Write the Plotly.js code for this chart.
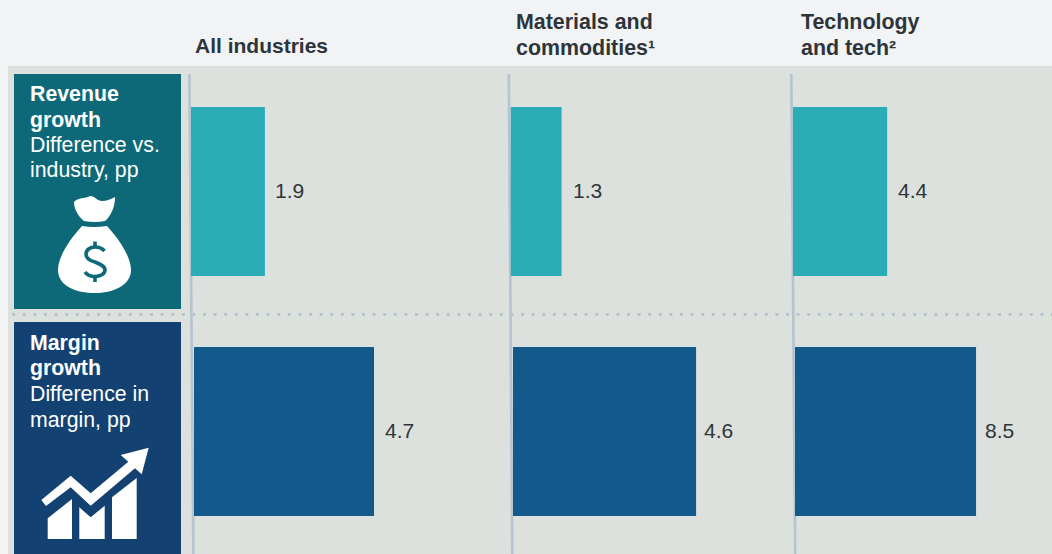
<!DOCTYPE html>
<html>
<head>
<meta charset="utf-8">
<script src="https://cdn.plot.ly/plotly-3.0.1.min.js"></script>
<style>html,body{margin:0;padding:0;background:#f1f3f5;overflow:hidden}</style>
</head>
<body>
<div id="chart" style="width:1052px;height:554px"></div>
<script>
// Values, pp
const industries = ['All industries', 'Materials and commodities', 'Technology and tech'];
const revenueGrowth = [1.9, 1.3, 4.4];
const marginGrowth = [4.7, 4.6, 8.5];

// Horizontal scale of each small panel: where the bar starts and pixels per point
const revenueStart = [191, 510.5, 793];
const revenueScale = [38.9, 39.3, 21.4];
const revenueLabelGap = [8.5, 9.5, 8.5];
const marginStart = [194, 513, 795];
const marginScale = [38.3, 39.8, 21.3];
const marginLabelGap = [8.5, 5.5, 6.5];

const W = 1052, H = 554, PANEL = 240;
const FONT = 'Liberation Sans, Arial, sans-serif';
const INK = '#2d353b';
const TEAL = '#0d6978', NAVY = '#134272', RULE = '#b6c4d0';

const px = x => x / W;
const py = y => 1 - y / H;

// Converts a path written in page pixels to paper coordinates
const toPaper = d => d.replace(/(-?[\d.]+),(-?[\d.]+)/g,
  (_, x, y) => px(+x).toFixed(5) + ',' + py(+y).toFixed(5));

const rect = (x0, y0, x1, y1, color) => ({
  type: 'rect', xref: 'paper', yref: 'paper', layer: 'below',
  x0: px(x0), x1: px(x1), y0: py(y0), y1: py(y1),
  fillcolor: color, line: {width: 0}
});
const line = (x0, y0, x1, y1, color, width, dash) => ({
  type: 'line', xref: 'paper', yref: 'paper', layer: 'below',
  x0: px(x0), x1: px(x1), y0: py(y0), y1: py(y1),
  line: {color, width, dash: dash || 'solid'}
});
const icon = (d, fill) => ({
  type: 'path', xref: 'paper', yref: 'paper', layer: 'above',
  path: toPaper(d), fillcolor: fill, line: {width: 0}
});
const stroke = (d, color, width) => ({
  type: 'path', xref: 'paper', yref: 'paper', layer: 'above',
  path: toPaper(d), line: {color, width}
});

const shapes = [
  rect(8, 66, W, H, '#dde1de'),
  rect(14, 74, 181, 309, TEAL),
  rect(14, 322, 181, H, NAVY),
  line(12.2, 314.4, W, 314.4, RULE, 3, '3px,7.6px'),
  line(189.4, 74, 193.4, H, RULE, 2.7),
  line(508.8, 74, 512.3, H, RULE, 2.7),
  line(791.3, 74, 795.2, H, RULE, 2.7),
  // Money bag
  icon('M74,202 C78,197 85,199 90,196 C95,196 97,201 102,201 C107,201 111,199 115,197 C115,207 111,216 105,221 Q95,223 84,221 C78,216 74,209 74,202 Z', '#ffffff'),
  icon('M82,226 Q94,228 107,226 C118,238 131,256 131,270 C131,286 112,293 95,293 C76,293 58,286 58,270 C58,256 71,238 82,226 Z', '#ffffff'),
  stroke('M104.5,251 C102,248 99,247 95,247 C90,247 86,250 86,254 C86,259 91,261 95,262 C100,264 105,266 105,270 C105,274 100,276.5 95,276.5 C91,276.5 87,275 85,272', TEAL, 3.6),
  stroke('M95,241.5 L95,247 M95,276.5 L95,282', TEAL, 3.6),
  // Rising chart
  icon('M41.3,500 L70.7,475.7 L90.7,493.3 L128.3,461.7 L120.7,455 L148.7,447.7 L141.7,474.3 L135,468.3 L90.7,505.7 L70.7,487.3 L46,506 Z', '#ffffff'),
  icon('M47.7,518.3 L72,499 L72,539 L47.7,539 Z', '#ffffff'),
  icon('M79.3,507.3 L90.7,517.3 L104.7,505.7 L104.7,539 L79.3,539 Z', '#ffffff'),
  icon('M112,497.3 L136.7,478 L136.7,539 L112,539 Z', '#ffffff')
];

const text = (x, y, str, size, color, weight) => ({
  xref: 'paper', yref: 'paper', x: px(x), y: py(y), xanchor: 'left', yanchor: 'middle',
  text: weight ? '<b>' + str + '</b>' : str, showarrow: false, align: 'left',
  font: {family: FONT, size, color}
});

const HEAD = 21.4, SIDE = 21.3;
const annotations = [
  text(193, 45.5, 'All industries', 21, INK, true),
  text(514, 22, 'Materials and', HEAD, INK, true),
  text(514, 48, 'commodities¹', HEAD, INK, true),
  text(799, 22, 'Technology', HEAD, INK, true),
  text(799, 48, 'and tech²', HEAD, INK, true),
  text(28, 94, 'Revenue', SIDE, '#ffffff', true),
  text(28, 120, 'growth', SIDE, '#ffffff', true),
  text(28, 145, 'Difference vs.', SIDE, '#ffffff'),
  text(28, 170.5, 'industry, pp', SIDE, '#ffffff'),
  text(28, 343, 'Margin', SIDE, '#ffffff', true),
  text(28, 368, 'growth', SIDE, '#ffffff', true),
  text(28, 394, 'Difference in', SIDE, '#ffffff'),
  text(28, 419.5, 'margin, pp', SIDE, '#ffffff')
];

const traces = [];
const layout = {
  width: W, height: H, autosize: false,
  margin: {l: 0, r: 0, t: 0, b: 0, pad: 0},
  paper_bgcolor: '#f1f3f5', plot_bgcolor: 'rgba(0,0,0,0)',
  showlegend: false, barmode: 'overlay', hovermode: false,
  shapes, annotations,
  yaxis: {domain: [py(276), py(107)], range: [-0.5, 0.5], visible: false, type: 'linear', fixedrange: true},
  yaxis2: {domain: [py(516), py(347)], range: [-0.5, 0.5], visible: false, type: 'linear', fixedrange: true}
};

// One small panel per row and industry, each with its own value axis
function addRow(values, starts, scales, gaps, yName, color, firstAxis) {
  values.forEach((v, i) => {
    const n = firstAxis + i;
    const xName = 'x' + (n === 1 ? '' : n);
    layout['xaxis' + (n === 1 ? '' : n)] = {
      domain: [px(starts[i]), px(starts[i] + PANEL)],
      range: [0, PANEL / scales[i]],
      visible: false, fixedrange: true, anchor: yName
    };
    traces.push({
      type: 'bar', orientation: 'h', name: industries[i],
      x: [v], y: [0], width: 1, base: 0,
      xaxis: xName, yaxis: yName,
      marker: {color, line: {width: 0}}
    });
    annotations.push({
      xref: xName, yref: yName, x: v, y: 0,
      xanchor: 'left', yanchor: 'middle', xshift: gaps[i], yshift: 1, showarrow: false,
      text: v.toFixed(1), font: {family: FONT, size: 21, color: INK}
    });
  });
}
addRow(revenueGrowth, revenueStart, revenueScale, revenueLabelGap, 'y', '#2aadb6', 1);
addRow(marginGrowth, marginStart, marginScale, marginLabelGap, 'y2', '#125a8c', 4);

Plotly.newPlot('chart', traces, layout, {displayModeBar: false, staticPlot: true});
</script>
</body>
</html>
